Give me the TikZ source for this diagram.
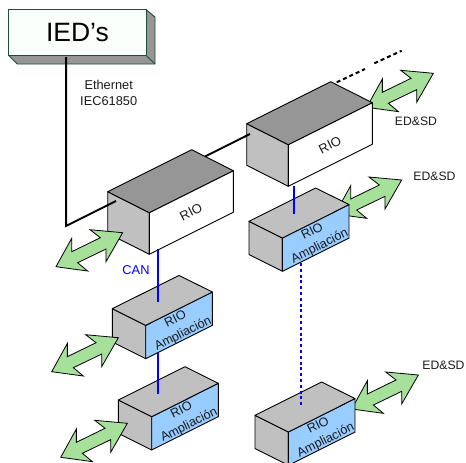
\documentclass[tikz,border=0pt]{standalone}
\usepackage{fontspec}
\setmainfont{Liberation Sans}
\tikzset{
  x=1pt,y=-1pt,
  edge/.style={draw=black,line width=0.9pt,line join=round},
  topgrey/.style={edge,fill=topdark},
  sidegrey/.style={edge,fill=sidelight},
  whiteface/.style={edge,fill=white},
  blueface/.style={edge,fill=amplblue},
  biarrow/.style={draw=black,line width=0.8pt,fill=arrowgreen,line join=miter},
  ethernet/.style={draw=black,line width=2pt},
  canbus/.style={draw=canblue,line width=2.2pt},
  canfar/.style={draw=canblue,line width=2.2pt,dash pattern=on 3pt off 2.8pt},
  etherfar/.style={draw=black,line width=2pt,dash pattern=on 4pt off 3pt},
  lab/.style={font=\fontsize{12.2}{15.8}\selectfont,text=labelgrey,inner sep=0pt,align=center},
  ethlab/.style={font=\fontsize{12.8}{16}\selectfont,text=labelgrey,inner sep=0pt,align=center},
  riolab/.style={font=\fontsize{13}{16}\selectfont,text=labelgrey,inner sep=0pt,align=center,rotate=27},
  facelab/.style={font=\fontsize{12.6}{16.5}\selectfont,text=labelgrey,inner sep=0pt,align=center,rotate=26.6},
}
\definecolor{topdark}{HTML}{969696}
\definecolor{sidelight}{HTML}{C0C0C0}
\definecolor{amplblue}{HTML}{99CCFF}
\definecolor{arrowgreen}{HTML}{A6E09B}
\definecolor{canblue}{HTML}{0000FF}
\definecolor{labelgrey}{HTML}{1A1A1A}
\definecolor{iededge}{HTML}{1F4F3A}
\definecolor{iedfill}{HTML}{FBFFFB}
\newcommand{\riobox}[3]{% name, x, y of left top corner
  \begin{scope}[shift={(#2,#3)}]
    \path[sidegrey] (0,0) -- (41.6,21) -- (41.6,62.6) -- (0,41.6) -- cycle;
    \path[whiteface] (41.6,21) -- (125.6,-21) -- (125.6,20.6) -- (41.6,62.6) -- cycle;
    \path[topgrey] (0,0) -- (84,-42) -- (125.6,-21) -- (41.6,21) -- cycle;
    \coordinate (#1) at (83.6,20.8);
  \end{scope}}
\newcommand{\amplbox}[3]{%
  \begin{scope}[shift={(#2,#3)}]
    \path[sidegrey] (0,0) -- (33.4,16.7) -- (33.4,50) -- (0,33.3) -- cycle;
    \path[blueface] (33.4,16.7) -- (100,-16.7) -- (100,16.7) -- (33.4,50) -- cycle;
    \path[sidegrey] (0,0) -- (66.7,-33.3) -- (100,-16.7) -- (33.4,16.7) -- cycle;
    \coordinate (#1) at (66.7,16.7);
  \end{scope}}
\newcommand{\greenarrow}[2]{% left tip
  \path[biarrow,shift={(#1,#2)},x=0.3333pt,y=-0.3333pt]
    (0,0) -- (47,-85) -- (47,-45) -- (133,-87) -- (102,-111) -- (200,-102)
    -- (150,-15) -- (150,-53) -- (65,-12) -- (95,13) -- cycle;}
\begin{document}
\begin{tikzpicture}
\useasboundingbox (0,0) rectangle (466,463);
% IED box
\path[edge,draw=iededge,fill=topdark] (145.7,9.3) -- (155,17) -- (155,64) -- (17.3,64) -- (8.3,55) -- (145.7,55) -- cycle;
\path[edge,draw=iededge] (145.7,55) -- (155,64);
\node[draw=iededge,line width=0.9pt,fill=iedfill,minimum width=137.4pt,minimum height=45.7pt,inner sep=0pt,anchor=north west,font=\fontsize{26.5}{30}\selectfont,text=black] (ied) at (8.3,9.3) {IED’s};
\coordinate (iedport) at (66,57);
\coordinate (corner) at (66,226);
\coordinate (tapA) at (116,201);
\coordinate (backA) at (205,156.5);
\coordinate (tapB) at (250,134);
\coordinate (farA) at (336.7,82.3);
\coordinate (farM) at (365,69);
\coordinate (farN) at (374.3,63.3);
\coordinate (farB) at (401.7,50.7);
% behind-box line
\draw[ethernet] (backA) -- (tapB);
\draw[etherfar] (farA) -- (farM);
\draw[etherfar] (farN) -- (farB);
% arrows behind boxes
\greenarrow{366.7}{107.3}
\greenarrow{335}{214}
\greenarrow{351.7}{409}
% boxes
\riobox{rioA}{107.7}{191.7}
\riobox{rioB}{246.7}{123.7}
\amplbox{ampA}{112.3}{308.7}
\amplbox{ampB}{118.3}{400}
\amplbox{ampC}{249}{221.3}
\amplbox{ampD}{255}{415.3}
% arrows over boxes
\greenarrow{56}{266.7}
\greenarrow{51.7}{371.7}
\greenarrow{60.7}{457.3}
% ethernet
\draw[ethernet,line join=miter] (iedport) -- (corner) -- (tapA);
\draw[ethernet] (tapB) -- ++(-5,2.5);
% CAN
\coordinate (c1a) at (157.7,249.3); \coordinate (c1b) at (157.7,301.7);
\coordinate (c2a) at (157.7,352.7); \coordinate (c2b) at (157.7,394);
\coordinate (c3a) at (294.3,186);   \coordinate (c3b) at (294.3,214);
\coordinate (c4a) at (300.7,263);   \coordinate (c4b) at (300.7,407);
\draw[canbus] (c1a) -- (c1b);
\draw[canbus] (c2a) -- (c2b);
\draw[canbus] (c3a) -- (c3b);
\draw[canfar] (c4a) -- (c4b);
% labels
\node[ethlab] (eth) at (108.7,92.5) {Ethernet\\IEC61850};
\node[ethlab,text=canblue] (can) at (136,270.5) {CAN};
\node[lab] (ed1) at (416,121.5) {ED\&SD};
\node[lab] (ed2) at (434.5,176.5) {ED\&SD};
\node[lab] (ed3) at (443.5,365.5) {ED\&SD};
\node[riolab] (rioA-l) at (191,212) {RIO};
\node[riolab] (rioB-l) at (330,145) {RIO};
\node[facelab] (la) at (179.5,326.7) {RIO\\Ampliación};
\node[facelab] (lb) at (185.5,418) {RIO\\Ampliación};
\node[facelab] (lc) at (316.2,239.3) {RIO\\Ampliación};
\node[facelab] (ld) at (322.2,433.3) {RIO\\Ampliación};
\end{tikzpicture}
\end{document}
